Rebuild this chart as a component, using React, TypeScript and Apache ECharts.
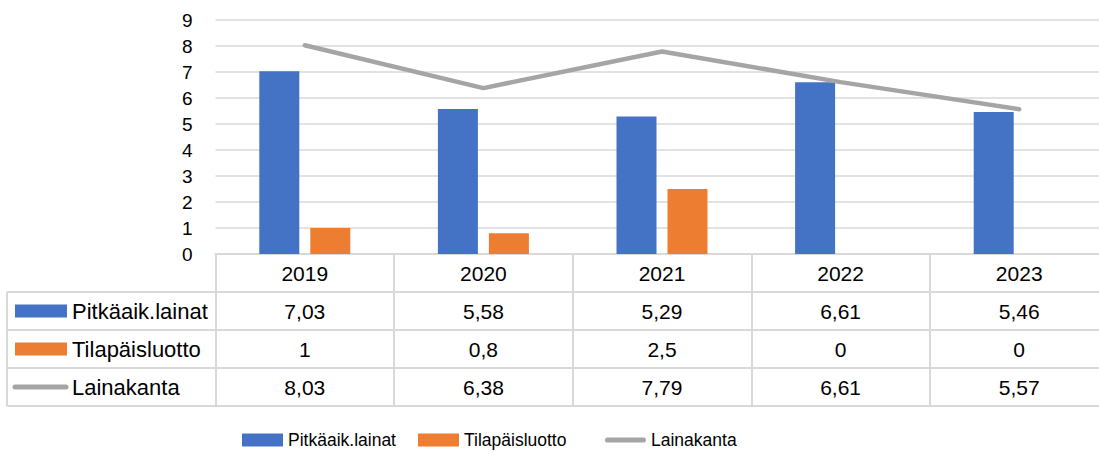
import React, { useEffect, useRef } from "react";
import * as echarts from "echarts";

const years = ["2019", "2020", "2021", "2022", "2023"];
const seriesNames = ["Pitkäaik.lainat", "Tilapäisluotto", "Lainakanta"];
const pitkaaik = [7.03, 5.58, 5.29, 6.61, 5.46];
const tilapais = [1, 0.8, 2.5, 0, 0];
const lainakanta = [8.03, 6.38, 7.79, 6.61, 5.57];
const colors = ["#4472c4", "#ed7d31", "#a5a5a5"];

const fmt = (v: number) => String(v).replace(".", ",");
const FONT = "'Liberation Sans', Arial, sans-serif";
const GRID_COLOR = "#d9d9d9";
const LINE_ICON =
  "path://M2.5,0 H37.5 A2.5,2.5 0 0 1 37.5,5 H2.5 A2.5,2.5 0 0 1 2.5,0 Z";

export default function App() {
  const ref = useRef<HTMLDivElement>(null);
  useEffect(() => {
    if (!ref.current) return;
    const chart = echarts.init(ref.current, undefined, { renderer: "svg" });
    const rows = [pitkaaik, tilapais, lainakanta];
    const rowY = [311, 349, 387];
    const lineYs = [292, 330, 368, 406];
    const graphics: any[] = [];
    lineYs.forEach((y) => {
      graphics.push({
        type: "line",
        shape: { x1: 7, y1: y, x2: 1099, y2: y },
        style: { stroke: GRID_COLOR, lineWidth: 2 },
        silent: true,
      });
    });
    graphics.push({
      type: "line",
      shape: { x1: 7, y1: 292, x2: 7, y2: 406 },
      style: { stroke: GRID_COLOR, lineWidth: 2 },
    });
    seriesNames.forEach((name, i) => {
      if (i < 2) {
        graphics.push({
          type: "rect",
          shape: { x: 15, y: rowY[i] - 6.5, width: 52, height: 13 },
          style: { fill: colors[i] },
        });
      } else {
        graphics.push({
          type: "line",
          shape: { x1: 15, y1: rowY[i], x2: 66, y2: rowY[i] },
          style: { stroke: colors[i], lineWidth: 5, lineCap: "round" },
        });
      }
      graphics.push({
        type: "text",
        x: 72,
        y: rowY[i],
        style: {
          text: name,
          font: `22px ${FONT}`,
          fill: "#000",
          verticalAlign: "middle",
        },
      });
    });

    const legendBase = {
      top: 431,
      padding: 0,
      itemWidth: 41,
      itemHeight: 13,
      itemGap: 22,
      textStyle: { fontSize: 17.5, color: "#000", fontFamily: FONT },
    };

    chart.setOption({
      animation: false,
      grid: {
        left: 215.5,
        right: -9.5,
        top: 20,
        height: 234,
        outerBoundsMode: "none",
        containLabel: false,
      },
      textStyle: { fontFamily: FONT },
      legend: [
        {
          ...legendBase,
          left: 242,
          data: seriesNames.slice(0, 2).map((n) => ({ name: n, icon: "rect" })),
        },
        {
          ...legendBase,
          left: 605,
          data: [{ name: seriesNames[2], icon: LINE_ICON }],
        },
      ],
      xAxis: {
        type: "category",
        data: years,
        boundaryGap: true,
        axisLine: { show: true, lineStyle: { color: GRID_COLOR, width: 2 } },
        axisTick: {
          show: true,
          length: 152,
          inside: false,
          lineStyle: { color: GRID_COLOR, width: 2 },
        },
        axisLabel: {
          interval: 0,
          margin: 0,
          fontSize: 21,
          lineHeight: 38,
          color: "#000",
          fontFamily: FONT,
          formatter: (v: string, i: number) =>
            [v, ...rows.map((r) => fmt(r[i]))].join("\n"),
        },
      },
      yAxis: {
        type: "value",
        min: 0,
        max: 9,
        interval: 1,
        axisLine: { show: false },
        axisTick: { show: false },
        axisLabel: { fontSize: 19, color: "#000", margin: 23, fontFamily: FONT },
        splitLine: { lineStyle: { color: GRID_COLOR, width: 1.5 } },
      },
      series: [
        {
          name: seriesNames[0],
          type: "bar",
          data: pitkaaik,
          barWidth: 40,
          barGap: "27.5%",
          itemStyle: { color: colors[0] },
        },
        {
          name: seriesNames[1],
          type: "bar",
          data: tilapais,
          barWidth: 40,
          itemStyle: { color: colors[1] },
        },
        {
          name: seriesNames[2],
          type: "line",
          data: lainakanta,
          symbol: "none",
          lineStyle: { color: colors[2], width: 4.5, cap: "round" },
          itemStyle: { color: colors[2] },
        },
      ],
      graphic: graphics,
    });
    return () => chart.dispose();
  }, []);
  return (
    <div
      ref={ref}
      style={{ position: "absolute", left: 0, top: 0, width: 1099, height: 455 }}
    />
  );
}
